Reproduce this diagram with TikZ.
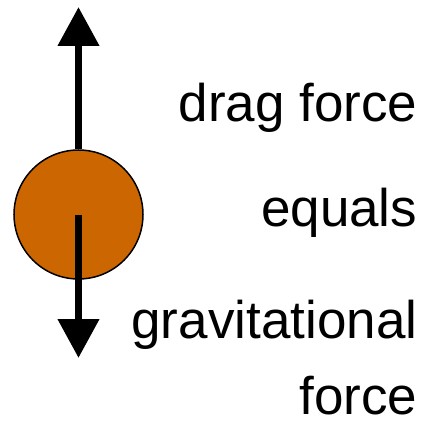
\documentclass[tikz,border=0pt]{standalone}
\usepackage{fontspec}
\setmainfont{Liberation Sans}
\usepackage{tikz}
\usetikzlibrary{positioning,arrows.meta}
\usepackage{xcolor}
\definecolor{ballorange}{HTML}{CC6600}

\begin{document}
\begin{tikzpicture}[x=1pt, y=1pt,
  ball/.style={circle, draw, line width=1.5pt, fill=ballorange, minimum size=129pt, inner sep=0pt},
  lbl/.style={font=\fontsize{53}{74}\selectfont, anchor=base east, inner sep=0pt},
  force/.style={-{Triangle[length=39pt, width=40pt]}, line width=7.5pt}]
\useasboundingbox (0,0) rectangle (423,421);
\node[ball] (ball) at (78.5,206.5) {};
\coordinate (top) at (78.5,414);
\coordinate (bottom) at (78.5,63);
\draw[force] (ball.north) -- (top);
\draw[force] (ball.center) -- (bottom);
\node[lbl] (drag) at (417.5,299.3) {drag force};
\node[lbl] (equals) at (417.5,194.3) {equals};
\node[lbl] (grav) at (417.5,83) {gravitational};
\node[lbl, text depth=0pt] (gforce) at (417.5,6.5) {force};
\end{tikzpicture}
\end{document}
